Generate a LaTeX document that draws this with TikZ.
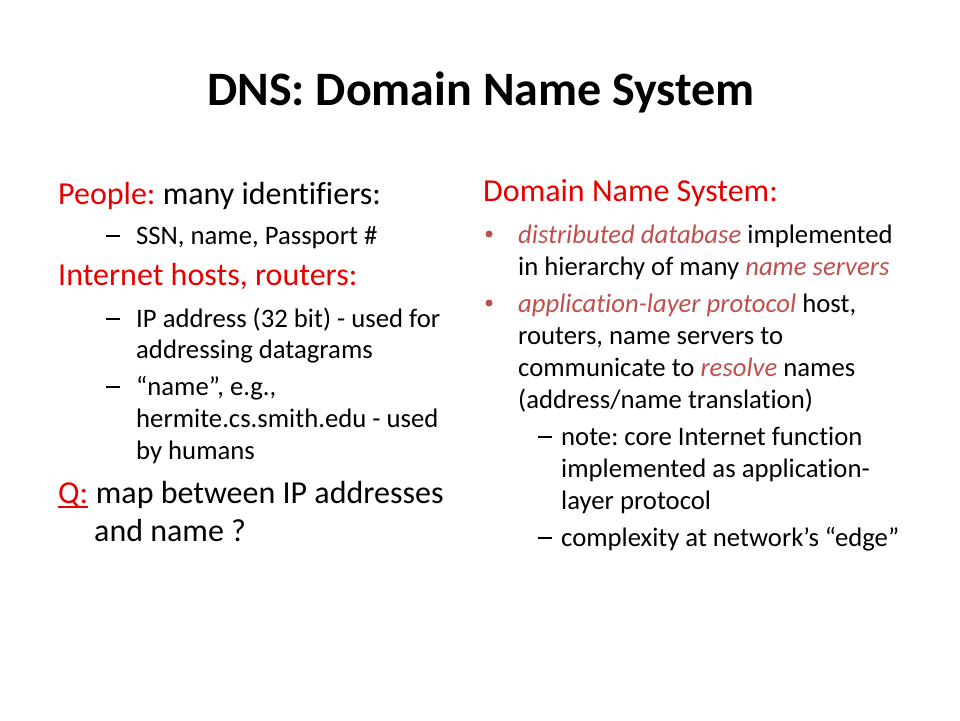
\documentclass[tikz,border=0pt]{standalone}
\usepackage{fontspec}
\setmainfont[Ligatures=NoCommon]{Carlito}
\definecolor{hred}{HTML}{E60000}
\definecolor{ired}{HTML}{C0504D}
\newcommand{\mydash}{\rule[7pt]{14pt}{1.8pt}}
\begin{document}
\frenchspacing
\begin{tikzpicture}[x=1pt,y=-1pt,
  every node/.style={inner sep=0pt, anchor=base west},
  big/.style={font=\fontsize{32}{38}\selectfont\frenchspacing},
  small/.style={font=\fontsize{26.7}{32}\selectfont\frenchspacing},
  bul/.style={circle, fill=ired, minimum size=7pt, anchor=center}]
\fill[white] (0,0) rectangle (960,720);
\useasboundingbox (0,0) rectangle (960,720);
\node[font=\bfseries\fontsize{48}{56}\selectfont, anchor=base] (title) at (481,105) {DNS: Domain Name System};
% left column
\node[big] (l1) at (58,204) {\textcolor{hred}{People:} many identifiers:};
\node[small] (l2d) at (106,244) {\mydash};
\node[small] (l2) at (136,244) {SSN, name, Passport \#};
\node[big] (l3) at (58,285) {\textcolor{hred}{Internet hosts, routers:}};
\node[small] (l4d) at (106,327) {\mydash};
\node[small] (l4) at (136,327) {IP address (32 bit) - used for};
\node[small] (l5) at (136,358) {addressing datagrams};
\node[small] (l6d) at (106,395) {\mydash};
\node[small] (l6) at (136,395) {“name”, e.g.,};
\node[small] (l7) at (136,427) {hermite.cs.smith.edu - used};
\node[small] (l8) at (136,459) {by humans};
\node[big] (q) at (58,503) {\textcolor{hred}{Q:}};
\node[big] (l9) at (q.base east) {\ map between IP addresses};
\draw[hred, line width=1.6pt] ([yshift=-4pt]q.base west) -- ([yshift=-4pt]q.base east);
\node[big] (l10) at (94,541) {and name ?};
% right column
\node[big] (r1) at (483,201) {\textcolor{hred}{Domain Name System:}};
\node[bul] (rb1) at (489,234) {};
\node[small] (r2) at (518,243) {\textcolor{ired}{\itshape distributed database} implemented};
\node[small] (r3) at (518,275) {in hierarchy of many \textcolor{ired}{\itshape name servers}};
\node[bul] (rb2) at (489,303) {};
\node[small] (r4) at (518,312) {\textcolor{ired}{\itshape application-layer protocol} host,};
\node[small] (r5) at (518,344) {routers, name servers to};
\node[small] (r6) at (518,376) {communicate to \textcolor{ired}{\itshape resolve} names};
\node[small] (r7) at (518,408) {(address/name translation)};
\node[small] (r8d) at (538,445) {\mydash};
\node[small] (r8) at (561,445) {note: core Internet function};
\node[small] (r9) at (561,477) {implemented as application-};
\node[small] (r10) at (561,509) {layer protocol};
\node[small] (r11d) at (538,546) {\mydash};
\node[small] (r11) at (561,546) {complexity at network’s “edge”};
\end{tikzpicture}
\end{document}
